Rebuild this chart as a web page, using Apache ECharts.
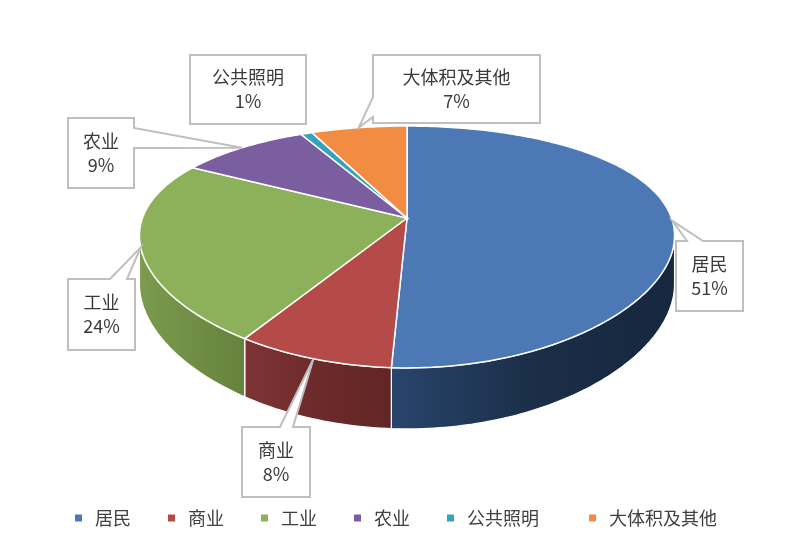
<!DOCTYPE html>
<html>
<head>
<meta charset="utf-8">
<script src="https://cdn.jsdelivr.net/npm/echarts@6/dist/echarts.min.js"></script>
<style>
  html, body { margin: 0; padding: 0; background: #fff; }
  #main { width: 795px; height: 557px; }
</style>
</head>
<body>
<div id="main"></div>
<script>
// 数据
var categories = ['居民', '商业', '工业', '农业', '公共照明', '大体积及其他'];
var shares = [50.8, 8.2, 24.2, 9.3, 0.8, 6.7];

// 颜色 (顶面 / 侧面渐变)
var topColors = ['#4c79b6', '#b54b48', '#8cb15a', '#7a5ea0', '#35a3bf', '#f38c43'];
var sideColors = [
  ['#28456c', '#1b2e48', '#16273e'],
  ['#7e3434', '#6d2a2a', '#622525'],
  ['#7c9b4e', '#708e45', '#66823d'],
  ['#5e4780', '#523e70', '#48365f'],
  ['#2a8298', '#236f82', '#1d5e6e'],
  ['#c46f33', '#b0632d', '#9a5627']
];

// 标注框位置 [x, y, w, h, 边, 起点偏移, 终点偏移]
var labelBoxes = [
  [676, 241, 67, 70, 'top', 11, 27],
  [242, 427, 68, 70, 'top', 38, 51],
  [68, 279, 67, 71, 'top', 42, 59],
  [68, 118, 66, 70, 'right', 10, 30],
  [190, 55, 116, 69, null],
  [373, 55, 167, 68, 'left', 42, 62]
];

// 3D 饼图投影参数
var CX = 407, CY = 218, RX = 264.5, RY = 114, KX = 0.15, KY = 0.2395, DEPTH = 46.4;
var VIS0 = Math.acos(-KX) * 180 / Math.PI, VIS1 = 360 - VIS0;

var total = shares.reduce(function (s, v) { return s + v; }, 0);
var startAngle = [];
var acc = 0;
for (var i = 0; i < shares.length; i++) {
  startAngle.push(acc / total * 360);
  acc += shares[i];
}

function proj(theta, z) {
  var t = theta * Math.PI / 180, x = Math.sin(t), y = Math.cos(t);
  return [CX + RX * x / (1 + KX * y), CY + (-RY * y + DEPTH * z) / (1 + KY * y)];
}
function arc(a, b, z) {
  var pts = [], n = Math.max(2, Math.ceil(b - a));
  for (var k = 0; k <= n; k++) pts.push(proj(a + (b - a) * k / n, z));
  return pts;
}

function sliceRange(params, api) {
  var a = startAngle[params.dataIndex];
  return [a, a + api.value(0) / total * 360];
}

function calloutPoints(box, tip) {
  var x = box[0], y = box[1], w = box[2], h = box[3], side = box[4], p = box[5], q = box[6];
  var tl = [x, y], tr = [x + w, y], br = [x + w, y + h], bl = [x, y + h];
  var pts = [tl];
  if (side === 'top') pts.push([x + p, y], tip, [x + q, y]);
  pts.push(tr);
  if (side === 'right') pts.push([x + w, y + p], tip, [x + w, y + q]);
  pts.push(br);
  if (side === 'bottom') pts.push([x + q, y + h], tip, [x + p, y + h]);
  pts.push(bl);
  if (side === 'left') pts.push([x, y + q], tip, [x, y + p]);
  return pts;
}

var seriesData = categories.map(function (c, i) { return { name: c, value: shares[i] }; });
var fontFam = '"Noto Sans CJK SC", "Noto Sans", sans-serif';

var myChart = echarts.init(document.getElementById('main'));

option = {
  backgroundColor: '#fff',
  animation: false,
  legend: {
    data: categories,
    left: 70,
    top: 504,
    icon: 'rect',
    itemWidth: 7,
    itemHeight: 7,
    itemGap: 37,
    // 公共照明后面的间距大一些
    formatter: function (name) {
      return name === '公共照明' ? name + '\u2002 ' : name;
    },
    textStyle: {
      color: '#404040',
      fontSize: 18,
      fontFamily: fontFam,
      padding: [0, 0, 0, 8]
    }
  },
  series: [
    {
      // 只用来生成图例
      type: 'pie',
      radius: [0, 0],
      center: [CX, CY],
      silent: true,
      label: { show: false },
      labelLine: { show: false },
      data: categories.map(function (c, i) {
        return { name: c, value: shares[i], itemStyle: { color: topColors[i] } };
      })
    },
    {
      // 侧面
      type: 'custom',
      coordinateSystem: 'none',
      z: 1,
      silent: true,
      data: seriesData,
      renderItem: function (params, api) {
        var r = sliceRange(params, api);
        var lo = Math.max(r[0], VIS0), hi = Math.min(r[1], VIS1);
        if (hi <= lo) return { type: 'group', children: [] };
        var pts = arc(lo, hi, 0).concat(arc(lo, hi, 1).reverse());
        var cs = sideColors[params.dataIndex];
        return {
          type: 'polygon',
          shape: { points: pts },
          style: {
            fill: {
              type: 'linear', x: 0, y: 0, x2: 1, y2: 0,
              colorStops: [
                { offset: 0, color: cs[0] },
                { offset: 0.5, color: cs[1] },
                { offset: 1, color: cs[2] }
              ]
            },
            stroke: '#fff',
            lineWidth: 1.2
          }
        };
      }
    },
    {
      // 顶面
      type: 'custom',
      coordinateSystem: 'none',
      z: 2,
      silent: true,
      data: seriesData,
      renderItem: function (params, api) {
        var r = sliceRange(params, api);
        return {
          type: 'polygon',
          shape: { points: [[CX, CY]].concat(arc(r[0], r[1], 0)) },
          style: { fill: topColors[params.dataIndex], stroke: '#fff', lineWidth: 1.5 }
        };
      }
    },
    {
      // 标注
      type: 'custom',
      coordinateSystem: 'none',
      z: 3,
      silent: true,
      data: seriesData,
      renderItem: function (params, api) {
        var i = params.dataIndex;
        var r = sliceRange(params, api);
        var tip = proj((r[0] + r[1]) / 2, 0);
        var box = labelBoxes[i];
        var pct = Math.round(api.value(0) / total * 100) + '%';
        return {
          type: 'group',
          children: [
            {
              type: 'polygon',
              shape: { points: calloutPoints(box, tip) },
              style: { fill: '#fff', stroke: '#bfbfbf', lineWidth: 2 }
            },
            {
              type: 'text',
              style: {
                x: box[0] + box[2] / 2,
                y: box[1] + box[3] / 2,
                text: categories[i] + '\n' + pct,
                align: 'center',
                verticalAlign: 'middle',
                fontSize: 18,
                lineHeight: 24,
                fontFamily: fontFam,
                fill: '#3a3a3a'
              }
            }
          ]
        };
      }
    }
  ]
};

if (option && typeof option === "object") {
  myChart.setOption(option, true);
}
</script>
</body>
</html>
